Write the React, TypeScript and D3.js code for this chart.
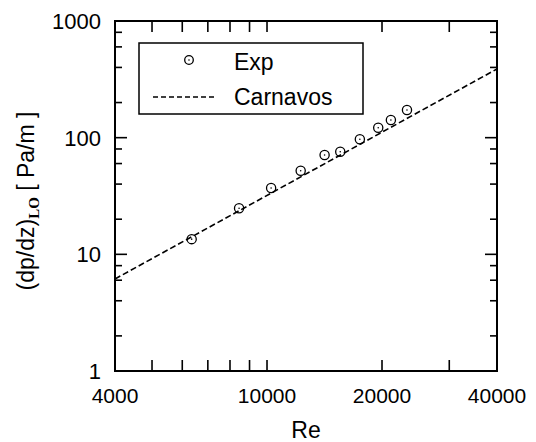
import React from "react";
import * as d3 from "d3";

const expRe = [6350, 8450, 10250, 12250, 14150, 15550, 17500, 19550, 21100, 23250];
const expDp = [13.5, 24.8, 37.0, 52.1, 71.0, 75.8, 96.8, 121.7, 141.7, 172.6];
const carnavosRe = [4000, 40000];
const carnavosDp = [6.15, 388];

const xTickValues = [5000, 6000, 7000, 8000, 9000, 10000, 20000, 30000];
const xTickLabels = [4000, 10000, 20000, 40000];
const yMajorTicks = [10, 100];
const yMinorTicks = [2, 4, 6, 8, 20, 40, 60, 80, 200, 400, 600, 800];
const yTickLabels = [1, 10, 100, 1000];

const W = 536;
const H = 442;
const L = 115, R = 497, T = 21, B = 371;

export default function App() {
  const x = d3.scaleLog().domain([4000, 40000]).range([L, R]);
  const y = d3.scaleLog().domain([1, 1000]).range([B, T]);
  const line = d3
    .line<number>()
    .x((_, i) => x(carnavosRe[i]))
    .y((d) => y(d));
  const font = "'Liberation Sans', Arial, Helvetica, sans-serif";
  const pts = expRe.map((r, i) => ({ r, d: expDp[i] }));

  return (
    <svg
      width={W}
      height={H}
      style={{ position: "absolute", left: 0, top: 0, background: "#fff" }}
      fontFamily={font}
    >
      <rect x={0} y={0} width={W} height={H} fill="#fff" />
      {/* x ticks */}
      {xTickValues.map((v) => (
        <g key={"xt" + v} stroke="#000" strokeWidth={1.6}>
          <line x1={x(v)} x2={x(v)} y1={B} y2={B - 11} />
          <line x1={x(v)} x2={x(v)} y1={T} y2={T + 11} />
        </g>
      ))}
      {/* y ticks */}
      {yMajorTicks.map((v) => (
        <g key={"yM" + v} stroke="#000" strokeWidth={1.6}>
          <line x1={L} x2={L + 12} y1={y(v)} y2={y(v)} />
          <line x1={R} x2={R - 12} y1={y(v)} y2={y(v)} />
        </g>
      ))}
      {yMinorTicks.map((v) => (
        <g key={"ym" + v} stroke="#000" strokeWidth={1.6}>
          <line x1={L} x2={L + 7} y1={y(v)} y2={y(v)} />
          <line x1={R} x2={R - 7} y1={y(v)} y2={y(v)} />
        </g>
      ))}
      {/* frame */}
      <rect x={L} y={T} width={R - L} height={B - T} fill="none" stroke="#000" strokeWidth={2} />
      {/* x labels */}
      {xTickLabels.map((v) => (
        <text key={"xl" + v} x={x(v)} y={403} fontSize={21} textAnchor="middle" fill="#000">
          {v}
        </text>
      ))}
      {yTickLabels.map((v) => (
        <text
          key={"yl" + v}
          x={101}
          y={y(v)}
          dy="0.36em"
          fontSize={22}
          textAnchor="end"
          fill="#000"
        >
          {v}
        </text>
      ))}
      <text x={(L + R) / 2} y={438} fontSize={23} textAnchor="middle" fill="#000">
        Re
      </text>
      <text
        transform={`translate(34, 201) rotate(-90)`}
        fontSize={23}
        textAnchor="middle"
        fill="#000"
      >
        (dp/dz)
        <tspan dy={5} fontFamily="'Liberation Serif', 'Times New Roman', serif" fontSize={15} fontWeight="bold">
          LO
        </tspan>
        <tspan dy={-5}> [ Pa/m ]</tspan>
      </text>
      {/* Carnavos line */}
      <path d={line(carnavosDp) || ""} fill="none" stroke="#000" strokeWidth={1.6} strokeDasharray="6,3" />
      {/* Exp points */}
      {pts.map((p, i) => (
        <g key={"p" + i}>
          <circle cx={x(p.r)} cy={y(p.d)} r={4.6} fill="none" stroke="#000" strokeWidth={1.3} />
          <circle cx={x(p.r)} cy={y(p.d)} r={0.8} fill="#000" />
        </g>
      ))}
      {/* legend */}
      <rect x={139} y={43} width={224} height={71} fill="#fff" stroke="#000" strokeWidth={1.5} />
      <circle cx={189} cy={60} r={4.3} fill="none" stroke="#000" strokeWidth={1.3} />
      <circle cx={189} cy={60} r={0.8} fill="#000" />
      <text x={234} y={70} fontSize={23} fill="#000">
        Exp
      </text>
      <line x1={153} x2={217} y1={97} y2={97} stroke="#000" strokeWidth={1.5} strokeDasharray="5,3" />
      <text x={234} y={105} fontSize={23} fill="#000">
        Carnavos
      </text>
    </svg>
  );
}
